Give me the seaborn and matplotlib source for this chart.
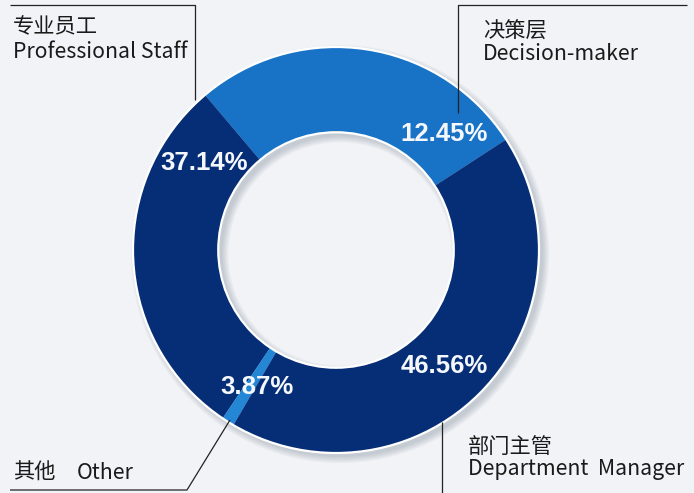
import matplotlib.pyplot as plt
import seaborn as sns
import numpy as np
from matplotlib.patches import Wedge, Circle

# ring segments, counter-clockwise from the right edge
groups_cn = ['决策层', '专业员工', '其他', '部门主管']
groups_en = ['Decision-maker', 'Professional Staff', 'Other', 'Department Manager']
pct_labels = ['12.45%', '37.14%', '3.87%', '46.56%']
arc_share = [27.0, 29.4, 1.0, 42.6]   # share of the ring as drawn
colors = ['#1872c6', '#062e76', '#2387d6', '#062e76']

sns.set_theme(style='white')
plt.rcParams['font.family'] = ['Noto Sans CJK SC', 'DejaVu Sans']

# pixel frame of the 694x493 picture, ring centre and outer radius
W, H = 694, 493
CX, CY, R = 336, 250, 203


def px(x, y):
    return (x - CX) / R, (CY - y) / R


fig = plt.figure(figsize=(6.94, 4.93), dpi=100, facecolor='#f1f3f6')
ax = fig.add_axes([0, 0, 1, 1])
ax.set_facecolor('#f1f3f6')

# soft drop shadow under the ring
for k in range(6):
    e = 0.006 * k
    ax.add_patch(Wedge((0.02, -0.02), 1.0 + e, 0, 360, width=0.42 + 2 * e,
                       facecolor='#20304a', edgecolor='none', alpha=0.035, zorder=1))

wedges, _ = ax.pie(arc_share, colors=colors, startangle=33, counterclock=True,
                   radius=1.0, wedgeprops=dict(width=0.42, edgecolor='none', linewidth=0))
for w in wedges:
    w.set_zorder(2)

# thin white rims
ax.add_patch(Circle((0, 0), 1.0, fill=False, ec='white', lw=1.6, zorder=3))
ax.add_patch(Circle((0, 0), 0.58, fill=False, ec='white', lw=1.6, zorder=3))

# percentage labels on the ring
label_angle = [47, 146.5, 240, -47]
for txt, ang in zip(pct_labels, label_angle):
    a = np.deg2rad(ang)
    ax.text(0.78 * np.cos(a), 0.78 * np.sin(a), txt, color='#f4f7fb', fontsize=18.5,
            fontweight='bold', family=['Liberation Sans'], ha='center', va='center', zorder=4)

# leader lines
lines = [
    [(10, 5), (195, 5), (195, 100)],
    [(687, 5), (458, 5), (458, 113)],
    [(442, 422), (442, 493)],
    [(10, 490), (187, 490), (230, 420)],
]
for pts in lines:
    xy = np.array([px(*p) for p in pts])
    ax.plot(xy[:, 0], xy[:, 1], color='#222222', lw=0.9, zorder=5, solid_capstyle='butt')

# category labels
tc = '#1a1a1a'
fs = 15.3
kw = dict(fontsize=fs, color=tc, va='center', ha='left', fontweight='medium')
ax.text(*px(13, 27), groups_cn[1], **kw)
ax.text(*px(13, 52), groups_en[1], **kw)
ax.text(*px(483, 32), groups_cn[0], **kw)
ax.text(*px(483, 54), groups_en[0], **kw)
ax.text(*px(468, 447), groups_cn[3], **kw)
ax.text(*px(468, 469), 'Department  Manager', **kw)
ax.text(*px(13, 473), groups_cn[2], **kw)
ax.text(*px(77, 473), groups_en[2], **kw)

ax.set_xlim(-CX / R, (W - CX) / R)
ax.set_ylim((CY - H) / R, CY / R)
ax.set_aspect('equal')
ax.axis('off')

fig.savefig('out.png', dpi=100, facecolor=fig.get_facecolor())
